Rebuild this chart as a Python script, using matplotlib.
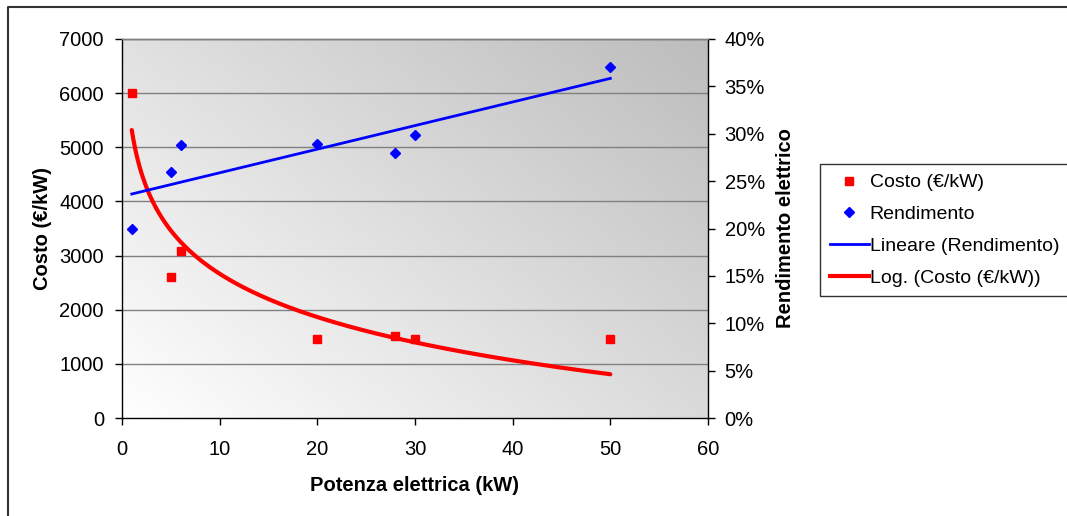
import numpy as np
import matplotlib
matplotlib.use("Agg")
import matplotlib.pyplot as plt
from matplotlib.lines import Line2D
from matplotlib.ticker import FuncFormatter

plt.rcParams['font.family'] = ['Liberation Sans', 'DejaVu Sans']

# Data
potenza = [1, 5, 6, 20, 28, 30, 50]
costo = [6000, 2600, 3080, 1460, 1520, 1460, 1460]
rendimento = [0.200, 0.260, 0.288, 0.289, 0.280, 0.299, 0.370]

W, H = 1067, 516
fig = plt.figure(figsize=(W / 100, H / 100), dpi=100)
ax = fig.add_axes([122 / W, 1 - 418 / H, (708 - 122) / W, (418 - 39) / H])
ax2 = ax.twinx()

# gradient background
nx, ny = 200, 200
u = np.linspace(0, 1, nx)[None, :]
v = np.linspace(0, 1, ny)[:, None]
t = (u * 0.55 + v * 0.45)
g = 1.0 - 0.26 * t
img = np.dstack([g, g, g])
ax.imshow(img, extent=[0, 1, 0, 1], transform=ax.transAxes, origin='lower',
          aspect='auto', zorder=0, interpolation='bilinear')

ax.set_xlim(0, 60)
ax.set_ylim(0, 7000)
ax2.set_ylim(0, 0.40)
ax.set_xticks(np.arange(0, 61, 10))
ax.set_yticks(np.arange(0, 7001, 1000))
ax2.set_yticks(np.arange(0, 0.401, 0.05))
ax2.yaxis.set_major_formatter(FuncFormatter(lambda v, p: f"{v*100:.0f}%"))

for yv in np.arange(1000, 7001, 1000):
    ax.axhline(yv, color='#808080', lw=1.0, zorder=1)

fs = 14.5
for a in (ax, ax2):
    a.tick_params(direction='out', length=5, width=1, labelsize=fs, colors='black')
    for s in a.spines.values():
        s.set_color('#808080')
        s.set_linewidth(1)
ax.tick_params(axis='x', pad=11)
ax.tick_params(axis='y', pad=8)
ax2.tick_params(axis='y', pad=7)
ax.spines['left'].set_color('black')
ax.spines['bottom'].set_color('black')
ax2.spines['right'].set_color('black')
ax.spines['right'].set_visible(False)
ax2.spines['left'].set_visible(False)
ax2.spines['bottom'].set_visible(False)

# fits
xs = np.array(potenza, dtype=float)
lin = np.polyfit(xs, rendimento, 1)
logc = np.polyfit(np.log(xs), costo, 1)
xf = np.linspace(min(potenza), max(potenza), 300)

ax.plot(potenza, costo, 's', color='#ff0000', ms=6.3, zorder=5, clip_on=False)
ax.plot(xf, np.polyval(logc, np.log(xf)), '-', color='#ff0000', lw=3, zorder=4,
        solid_capstyle='round')
ax2.plot(potenza, rendimento, 'D', color='#0000ff', ms=5.6, zorder=5, clip_on=False)
ax2.plot(xf, np.polyval(lin, xf), '-', color='#0000ff', lw=2, zorder=4)

ax.set_xlabel('Potenza elettrica (kW)', fontsize=fs, fontweight='bold', labelpad=12)
ax.set_ylabel('Costo (€/kW)', fontsize=fs, fontweight='bold', labelpad=5)
ax2.set_ylabel('Rendimento elettrico', fontsize=fs, fontweight='bold', labelpad=8)

handles = [
    Line2D([], [], marker='s', color='#ff0000', ls='none', ms=5.5),
    Line2D([], [], marker='D', color='#0000ff', ls='none', ms=5),
    Line2D([], [], color='#0000ff', lw=2),
    Line2D([], [], color='#ff0000', lw=3),
]
labels = ['Costo (€/kW)', 'Rendimento', 'Lineare (Rendimento)', 'Log. (Costo (€/kW))']
leg = fig.legend(handles, labels, loc='upper left',
                 bbox_to_anchor=(820 / W, 1 - 164 / H), bbox_transform=fig.transFigure,
                 fontsize=14, frameon=True, fancybox=False, shadow=False,
                 borderpad=0.5, labelspacing=0.73, handlelength=2.0, handletextpad=0.05,
                 borderaxespad=0)
leg.get_frame().set_edgecolor('black')
leg.get_frame().set_linewidth(1)

# outer chart border
fig.add_artist(Line2D([8 / W, 8 / W, 1.0], [0.0, 1 - 7 / H, 1 - 7 / H],
                      transform=fig.transFigure, color='#333333', lw=1.5))

fig.savefig('out.png', dpi=100)
